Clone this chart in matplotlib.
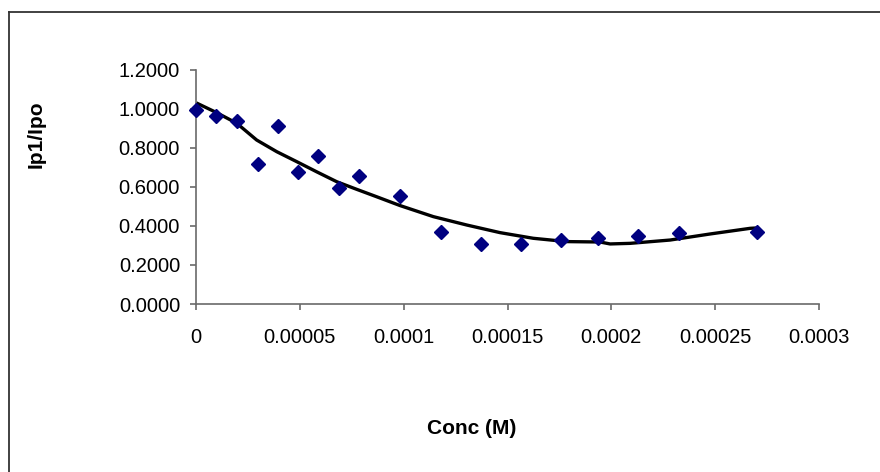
import matplotlib
matplotlib.use("Agg")
import matplotlib.pyplot as plt
from matplotlib.lines import Line2D

plt.rcParams['font.family'] = ['Liberation Sans', 'DejaVu Sans']

# Measured data points
conc = [0.0, 0.0000096, 0.0000196, 0.0000300, 0.0000396, 0.0000493, 0.0000589,
        0.0000689, 0.0000785, 0.0000982, 0.0001178, 0.0001371, 0.0001563,
        0.0001756, 0.0001937, 0.0002130, 0.0002326, 0.0002700]
ratio = [0.995, 0.964, 0.938, 0.718, 0.914, 0.678, 0.759, 0.593, 0.658, 0.555,
         0.371, 0.309, 0.308, 0.328, 0.340, 0.350, 0.363, 0.369]

# Trendline
trend_x = [0.0, 0.0000100, 0.0000196, 0.0000292, 0.0000389, 0.0000485, 0.0000581,
           0.0000678, 0.0000774, 0.0000870, 0.0000982, 0.0001143, 0.0001304,
           0.0001464, 0.0001624, 0.0001785, 0.0001945, 0.0001994, 0.0002090,
           0.0002283, 0.0002475, 0.0002668, 0.0002700]
trend_y = [1.032, 0.981, 0.927, 0.841, 0.781, 0.730, 0.678,
           0.627, 0.588, 0.550, 0.505, 0.448, 0.405,
           0.366, 0.337, 0.320, 0.318, 0.308, 0.311,
           0.328, 0.359, 0.388, 0.390]

xticks = [0, 0.00005, 0.0001, 0.00015, 0.0002, 0.00025, 0.0003]
xtick_labels = ['0', '0.00005', '0.0001', '0.00015', '0.0002', '0.00025', '0.0003']
yticks = [0.0, 0.2, 0.4, 0.6, 0.8, 1.0, 1.2]
ytick_labels = ['%.4f' % v for v in yticks]

W, H = 880, 472
fig = plt.figure(figsize=(W / 100, H / 100), dpi=100)
ax = fig.add_axes([196 / W, 1 - 304 / H, (819 - 196) / W, (304 - 70) / H])

ax.plot(trend_x, trend_y, color='black', lw=2.4, zorder=2, solid_capstyle='butt',
        solid_joinstyle='round')
ax.plot(conc, ratio, linestyle='none', marker='D', ms=7.5, color='#000080',
        markeredgecolor='#000080', zorder=3, clip_on=False)

ax.set_xlim(0, 0.0003)
ax.set_ylim(0, 1.2)
ax.set_xticks(xticks)
ax.set_xticklabels(xtick_labels)
ax.set_yticks(yticks)
ax.set_yticklabels(ytick_labels)

spine_color = '#6a6a6a'
for s in ['top', 'right']:
    ax.spines[s].set_visible(False)
for s in ['left', 'bottom']:
    ax.spines[s].set_color(spine_color)
    ax.spines[s].set_linewidth(1.2)
ax.tick_params(axis='both', direction='out', length=4.5, width=1.2, color=spine_color,
               labelsize=14.5, labelcolor='black')
ax.tick_params(axis='x', pad=13)
ax.tick_params(axis='y', pad=7)

fig.text(472 / W, 1 - 429 / H, 'Conc (M)', ha='center', va='center',
         fontsize=15, fontweight='bold')
fig.text(36.5 / W, 1 - 134 / H, 'Ip1/Ipo', ha='center', va='center',
         fontsize=15, fontweight='bold', rotation=90)

# Chart-area border (left and top visible)
fig.add_artist(Line2D([8.5 / W, 8.5 / W], [0, 1 - 12 / H], transform=fig.transFigure,
                      color='#333333', lw=1.3))
fig.add_artist(Line2D([8.5 / W, 1], [1 - 12 / H, 1 - 12 / H], transform=fig.transFigure,
                      color='#333333', lw=1.3))

fig.savefig('out.png', dpi=100)
